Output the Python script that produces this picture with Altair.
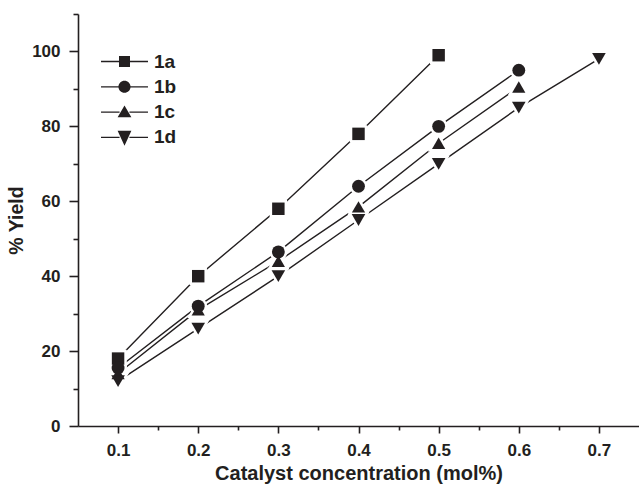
import altair as alt
import pandas as pd

series = ["1a", "1b", "1c", "1d"]
conc = [0.1, 0.2, 0.3, 0.4, 0.5, 0.6, 0.7]
y_1a = [18, 40, 58, 78, 99]
y_1b = [15.5, 32, 46.5, 64, 80, 95]
y_1c = [14, 31, 44, 58.5, 75.5, 90.5]
y_1d = [12, 26, 40, 55, 70, 85, 98]

x_ticks = [0.1, 0.15, 0.2, 0.25, 0.3, 0.35, 0.4, 0.45, 0.5, 0.55, 0.6, 0.65, 0.7]
y_ticks = [0, 10, 20, 30, 40, 50, 60, 70, 80, 90, 100, 110]

rows = []
for name, ys in zip(series, [y_1a, y_1b, y_1c, y_1d]):
    for xv, yv in zip(conc, ys):
        rows.append({"series": name, "x": xv, "y": yv})
df = pd.DataFrame(rows)

INK = "#231f20"
FONT = "Liberation Sans"

plot_shapes = ["square", "circle", "triangle-up", "triangle-down"]
plot_sizes = [155, 185, 240, 240]

L = "M-4.27,-0.12H-0.9V0.12H-4.27Z M0.9,-0.12H4.27V0.12H0.9Z "
legend_paths = [
    L + "M-1,-1H1V1H-1Z",
    L + "M-1.1,0A1.1,1.1,0,1,1,1.1,0A1.1,1.1,0,1,1,-1.1,0Z",
    L + "M0,-1.2L1.25,0.95H-1.25Z",
    L + "M-1.25,-1.2H1.25L0,1.5Z",
]

x_major = "abs(datum.value*10 - round(datum.value*10)) < 0.001"
y_major = "datum.value % 20 === 0"

x_enc = alt.X(
    "x:Q",
    scale=alt.Scale(domain=[0.05, 0.75], nice=False, zero=False),
    axis=alt.Axis(
        title="Catalyst concentration (mol%)",
        values=x_ticks,
        labelExpr=f"({x_major}) ? format(datum.value, '.1f') : ''",
        tickSize={"condition": {"test": x_major, "value": 7}, "value": 4},
        grid=False,
        labelFontSize=17,
        labelPadding=9,
        titleFontSize=20,
        titlePadding=5,
    ),
)
y_enc = alt.Y(
    "y:Q",
    scale=alt.Scale(domain=[0, 110], nice=False),
    axis=alt.Axis(
        title="% Yield",
        values=y_ticks,
        labelExpr=f"({y_major}) ? datum.label : ''",
        tickSize={"condition": {"test": y_major, "value": 9}, "value": 5},
        grid=False,
        labelFontSize=17,
        labelPadding=9,
        titleFontSize=19.5,
        titlePadding=5,
    ),
)

base = alt.Chart(df).encode(x=x_enc, y=y_enc)

lines = base.mark_line(color=INK, strokeWidth=1.4).encode(detail="series:N")

halo = base.mark_point(filled=True, color="white", stroke="white", strokeWidth=5, opacity=1).encode(
    shape=alt.Shape("series:N", scale=alt.Scale(domain=series, range=plot_shapes), legend=None),
    size=alt.Size("series:N", scale=alt.Scale(domain=series, range=plot_sizes), legend=None),
)

points = base.mark_point(filled=True, color=INK, opacity=1).encode(
    shape=alt.Shape("series:N", scale=alt.Scale(domain=series, range=plot_shapes), legend=None),
    size=alt.Size("series:N", scale=alt.Scale(domain=series, range=plot_sizes), legend=None),
)

legend_layer = base.mark_point(filled=True, color=INK, opacity=0).encode(
    shape=alt.Shape(
        "series:N",
        scale=alt.Scale(domain=series, range=legend_paths),
        legend=alt.Legend(
            title=None,
            orient="none",
            legendX=37,
            legendY=38,
            symbolSize=121,
            symbolOpacity=1,
            symbolFillColor=INK,
            symbolStrokeWidth=0,
            labelFont=FONT,
            labelFontSize=19,
            labelFontWeight="bold",
            labelColor=INK,
            labelOffset=20,
            rowPadding=5.3,
            padding=0,
        ),
    )
)

chart = (
    alt.layer(lines, halo, points, legend_layer)
    .resolve_scale(shape="independent", size="independent")
    .properties(
        width=561,
        height=412,
        autosize=alt.AutoSizeParams(type="none"),
        padding={"left": 78, "top": 14, "right": 0, "bottom": 63},
        background="white",
    )
    .configure_view(stroke=None)
    .configure_axis(
        domainColor=INK,
        domainWidth=1.6,
        tickColor=INK,
        tickWidth=1.6,
        labelFont=FONT,
        labelFontWeight="bold",
        labelColor=INK,
        titleFont=FONT,
        titleFontWeight="bold",
        titleColor=INK,
    )
)

chart.save("out.html", embed_options={"renderer": "svg", "actions": False})
